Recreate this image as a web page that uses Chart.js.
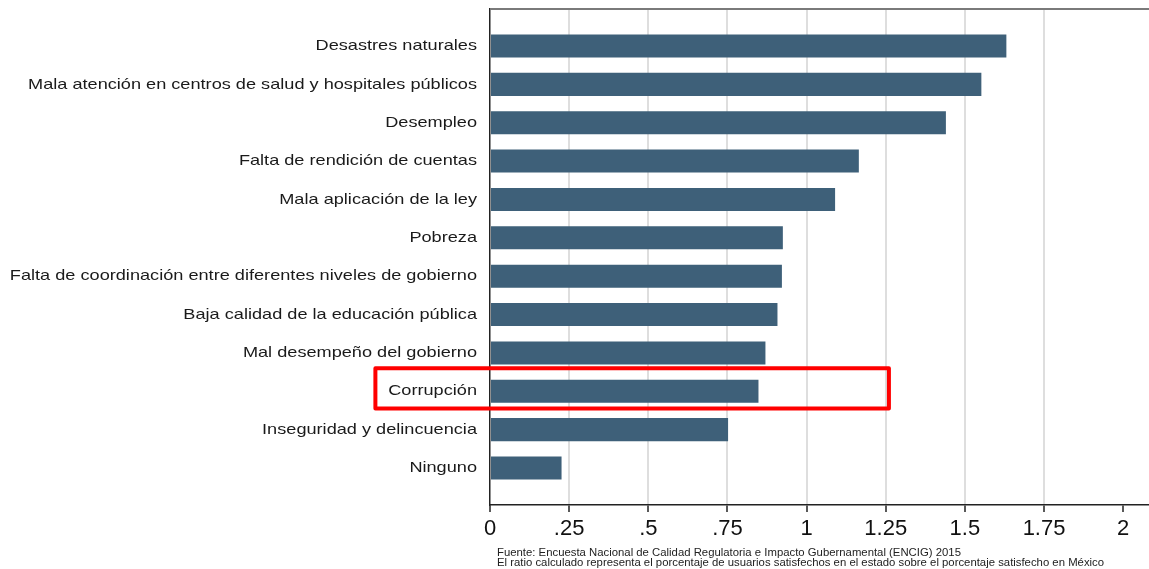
<!DOCTYPE html>
<html>
<head>
<meta charset="utf-8">
<script src="https://cdn.jsdelivr.net/npm/chart.js@4/dist/chart.umd.min.js"></script>
<style>
  html, body { margin: 0; padding: 0; background: #fff; }
  #wrap { width: 1149px; height: 569px; }
</style>
</head>
<body>
<div id="wrap"><canvas id="ratioChart"></canvas></div>
<script>
// Problemas y ratio de satisfacción (estado / México)
const categories = [
    "Desastres naturales",
    "Mala atención en centros de salud y hospitales públicos",
    "Desempleo",
    "Falta de rendición de cuentas",
    "Mala aplicación de la ley",
    "Pobreza",
    "Falta de coordinación entre diferentes niveles de gobierno",
    "Baja calidad de la educación pública",
    "Mal desempeño del gobierno",
    "Corrupción",
    "Inseguridad y delincuencia",
    "Ninguno"
];
const ratios = [1.631, 1.552, 1.44, 1.165, 1.09, 0.925, 0.922, 0.908, 0.87, 0.848, 0.752, 0.226];
const xTicks = [0, 0.25, 0.5, 0.75, 1, 1.25, 1.5, 1.75, 2];
const xTickLabels = ["0", ".25", ".5", ".75", "1", "1.25", "1.5", "1.75", "2"];
const notes = [
    "Fuente: Encuesta Nacional de Calidad Regulatoria e Impacto Gubernamental (ENCIG) 2015",
    "El ratio calculado representa el porcentaje de usuarios satisfechos en el estado sobre el porcentaje satisfecho en México"
];
const highlighted = "Corrupción";

const BAR_COLOR = "#3e6079";
const FONT = "'Liberation Sans', Arial, Helvetica, sans-serif";

// draws text squeezed into a wider box (the original lettering is wide)
function wideText(ctx, text, x, y, stretch) {
    ctx.save();
    ctx.translate(x, y);
    ctx.scale(stretch, 1);
    ctx.fillText(text, 0, 0);
    ctx.restore();
}

// top frame line, category labels, red box around highlighted row, notes
const framePlugin = {
    id: "frame",
    beforeDatasetsDraw(chart) {
        const { ctx, chartArea } = chart;
        ctx.save();
        ctx.strokeStyle = "#7a7a7a";
        ctx.lineWidth = 2;
        ctx.beginPath();
        ctx.moveTo(chartArea.left, chartArea.top);
        ctx.lineTo(chartArea.right, chartArea.top);
        ctx.stroke();
        ctx.restore();
    },
    afterDraw(chart) {
        const { ctx, chartArea } = chart;
        const xs = chart.scales.x, ys = chart.scales.y;

        ctx.save();
        ctx.fillStyle = "#1a1a1a";
        ctx.font = "15px " + FONT;
        ctx.textAlign = "right";
        ctx.textBaseline = "middle";
        ys.ticks.forEach(t => {
            wideText(ctx, categories[t.value], chartArea.left - 13, ys.getPixelForValue(t.value), 1.21);
        });
        ctx.restore();

        // box spans from just left of the label to 1.26 on the ratio axis
        const idx = categories.indexOf(highlighted);
        const left = xs.getPixelForValue(-0.362);
        const right = xs.getPixelForValue(1.26);
        const top = ys.getPixelForValue(idx - 0.6);
        const bottom = ys.getPixelForValue(idx + 0.45);
        ctx.save();
        ctx.strokeStyle = "#ff0000";
        ctx.lineWidth = 4;
        ctx.lineJoin = "round";
        ctx.strokeRect(left, top, right - left, bottom - top);

        // source notes
        ctx.fillStyle = "#222";
        ctx.font = "10px " + FONT;
        ctx.textBaseline = "alphabetic";
        wideText(ctx, notes[0], 497, 556, 1.134);
        wideText(ctx, notes[1], 497, 566, 1.134);
        ctx.restore();
    }
};

new Chart(document.getElementById("ratioChart"), {
    type: "bar",
    data: {
        datasets: [{
            data: ratios.map((v, i) => ({ x: v, y: i })),
            backgroundColor: BAR_COLOR,
            borderWidth: 0,
            categoryPercentage: 1,
            barPercentage: 0.6
        }]
    },
    options: {
        indexAxis: "y",
        responsive: true,
        maintainAspectRatio: false,
        animation: false,
        layout: { padding: { top: 9, right: 0, bottom: 0, left: 0 } },
        plugins: {
            legend: { display: false },
            tooltip: { enabled: false }
        },
        scales: {
            x: {
                type: "linear",
                min: 0,
                max: 2.0815,
                afterBuildTicks: axis => { axis.ticks = xTicks.map(v => ({ value: v })); },
                afterFit: axis => {
                    axis.height = 64;
                    axis.paddingLeft = 0;
                    axis.paddingRight = 0;
                },
                grid: {
                    color: ctx => (ctx.tick && ctx.tick.value > 0 && ctx.tick.value < 2) ? "#dedede" : "rgba(0,0,0,0)",
                    lineWidth: 2,
                    tickLength: 7,
                    tickColor: "#222",
                    tickWidth: 1.5
                },
                border: { display: true, color: "#222", width: 1.5 },
                ticks: {
                    padding: 4,
                    color: "#111",
                    font: { family: FONT, size: 22 },
                    maxRotation: 0,
                    callback: v => xTickLabels[xTicks.indexOf(v)]
                }
            },
            y: {
                type: "linear",
                reverse: true,
                offset: false,
                min: -0.965,
                max: 11.965,
                afterBuildTicks: axis => { axis.ticks = categories.map((c, i) => ({ value: i })); },
                afterFit: axis => {
                    axis.width = 490;
                    axis.paddingTop = 0;
                    axis.paddingBottom = 0;
                },
                grid: { display: false, drawTicks: false, offset: false },
                border: { display: true, color: "#222", width: 1.5 },
                ticks: { display: false }
            }
        }
    },
    plugins: [framePlugin]
});
</script>
</body>
</html>
